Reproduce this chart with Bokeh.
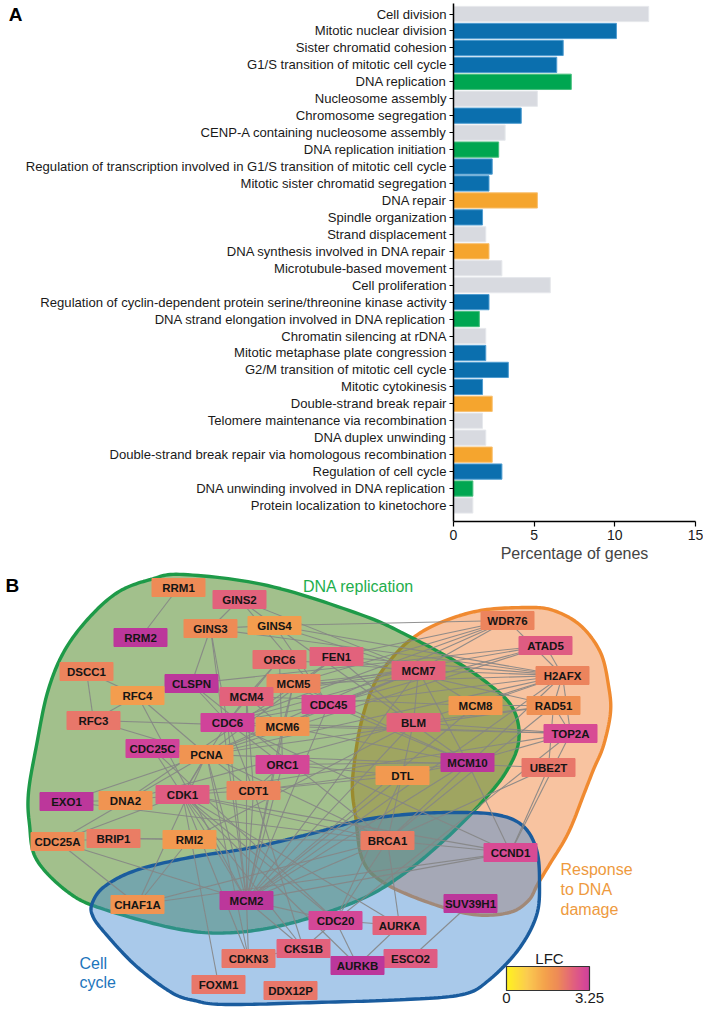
import numpy as np
from bokeh.plotting import figure
from bokeh.models import (Range1d, FixedTicker, LinearAxis, ColorBar, LinearColorMapper,
                          ColumnDataSource)
from bokeh.core.properties import value
from bokeh.embed import file_html
from bokeh.resources import INLINE

# ---------------- Panel A data ----------------
terms = [
    "Cell division", "Mitotic nuclear division", "Sister chromatid cohesion",
    "G1/S transition of mitotic cell cycle", "DNA replication", "Nucleosome assembly",
    "Chromosome segregation", "CENP-A containing nucleosome assembly",
    "DNA replication initiation",
    "Regulation of transcription involved in G1/S transition of mitotic cell cycle",
    "Mitotic sister chromatid segregation", "DNA repair", "Spindle organization",
    "Strand displacement", "DNA synthesis involved in DNA repair",
    "Microtubule-based movement", "Cell proliferation",
    "Regulation of cyclin-dependent protein serine/threonine kinase activity",
    "DNA strand elongation involved in DNA replication", "Chromatin silencing at rDNA",
    "Mitotic metaphase plate congression", "G2/M transition of mitotic cell cycle",
    "Mitotic cytokinesis", "Double-strand break repair",
    "Telomere maintenance via recombination", "DNA duplex unwinding",
    "Double-strand break repair via homologous recombination", "Regulation of cell cycle",
    "DNA unwinding involved in DNA replication", "Protein localization to kinetochore",
]
percent = [12.1, 10.1, 6.8, 6.4, 7.3, 5.2, 4.2, 3.2, 2.8, 2.4, 2.2, 5.2, 1.8, 2.0, 2.2,
           3.0, 6.0, 2.2, 1.6, 2.0, 2.0, 3.4, 1.8, 2.4, 1.8, 2.0, 2.4, 3.0, 1.2, 1.2]
groups = ["other", "cycle", "cycle", "cycle", "replication", "other", "cycle", "other",
          "replication", "cycle", "cycle", "repair", "cycle", "other", "repair", "other",
          "other", "cycle", "replication", "other", "cycle", "cycle", "cycle", "repair",
          "other", "other", "repair", "cycle", "replication", "other"]
x_ticks = [0, 5, 10, 15]

# ---------------- Panel B data ----------------
genes = ["RRM1", "GINS2", "GINS3", "GINS4", "RRM2", "ORC6", "FEN1", "DSCC1", "CLSPN", "MCM5",
         "RFC4", "MCM4", "CDC45", "RFC3", "CDC6", "MCM6", "CDC25C", "PCNA", "ORC1", "WDR76",
         "ATAD5", "MCM7", "H2AFX", "MCM8", "RAD51", "BLM", "TOP2A", "MCM10", "UBE2T", "DTL",
         "EXO1", "DNA2", "CDK1", "CDT1", "CDC25A", "BRIP1", "RMI2", "BRCA1", "CCND1", "CHAF1A",
         "MCM2", "SUV39H1", "CDC20", "AURKA", "CKS1B", "CDKN3", "ESCO2", "AURKB", "FOXM1",
         "DDX12P"]
layout_x = [178, 239, 210, 274, 140, 279, 336, 86, 191, 293,
            137, 246, 328, 93, 227, 282, 152, 206, 282, 507,
            545, 418, 562, 475, 553, 413, 570, 467, 548, 402,
            66, 125, 182, 253, 57, 113, 189, 387, 510, 137,
            246, 470, 335, 399, 303, 248, 410, 357, 218, 290]
layout_y = [585, 597, 626, 623, 635, 657, 654, 669, 681, 681,
            693, 694, 702, 718, 720, 724, 746, 752, 762, 618,
            643, 668, 673, 703, 703, 720, 731, 760, 765, 773,
            799, 798, 792, 788, 839, 836, 837, 838, 850, 902,
            898, 901, 918, 923, 946, 956, 956, 963, 982, 988]
lfc = [2.0, 2.6, 2.0, 1.6, 3.4, 2.4, 2.6, 2.1, 3.3, 2.1,
       1.6, 2.6, 2.95, 2.3, 3.2, 1.8, 3.2, 1.8, 3.1, 2.1,
       2.7, 2.6, 2.1, 1.7, 1.9, 2.6, 3.0, 3.4, 2.3, 1.7,
       3.4, 1.8, 2.7, 2.1, 2.0, 2.2, 1.7, 2.2, 3.0, 1.8,
       3.3, 3.5, 3.1, 2.6, 2.6, 2.3, 2.7, 3.4, 2.3, 2.3]
edges = [
    ("RRM1", "RRM2"), ("GINS2", "GINS3"), ("GINS2", "GINS4"), ("GINS2", "MCM7"), ("GINS2", "CDC45"),
    ("GINS3", "GINS4"), ("GINS3", "CLSPN"), ("GINS3", "CDC6"), ("GINS3", "MCM2"), ("GINS3", "H2AFX"),
    ("GINS4", "MCM7"), ("GINS4", "MCM10"), ("GINS4", "CDC45"), ("GINS4", "H2AFX"), ("GINS4", "WDR76"),
    ("ORC6", "ORC1"), ("ORC6", "CDC6"), ("ORC6", "MCM4"), ("ORC6", "MCM7"),
    ("FEN1", "PCNA"), ("FEN1", "DNA2"), ("FEN1", "WDR76"), ("FEN1", "RAD51"), ("FEN1", "BLM"),
    ("FEN1", "H2AFX"),
    ("DSCC1", "RFC4"), ("DSCC1", "RFC3"), ("RFC4", "RFC3"), ("RFC4", "PCNA"), ("RFC4", "MCM2"),
    ("RFC3", "PCNA"), ("RFC3", "MCM6"),
    ("CLSPN", "MCM4"), ("CLSPN", "CDC6"), ("CLSPN", "ATAD5"), ("CLSPN", "BRCA1"),
    ("MCM5", "MCM4"), ("MCM5", "MCM6"), ("MCM5", "MCM7"), ("MCM5", "MCM2"), ("MCM5", "CDC45"),
    ("MCM5", "MCM10"), ("MCM5", "H2AFX"),
    ("MCM4", "MCM6"), ("MCM4", "MCM7"), ("MCM4", "MCM2"), ("MCM4", "CDC6"), ("MCM4", "CDT1"),
    ("MCM4", "MCM8"),
    ("CDC45", "MCM6"), ("CDC45", "MCM7"), ("CDC45", "MCM2"), ("CDC45", "MCM10"), ("CDC45", "CDC6"),
    ("CDC45", "ATAD5"),
    ("CDC6", "ORC1"), ("CDC6", "CDT1"), ("CDC6", "MCM2"), ("CDC6", "MCM7"), ("CDC6", "CDK1"),
    ("CDC6", "CCND1"),
    ("MCM6", "MCM7"), ("MCM6", "MCM2"), ("MCM6", "MCM10"), ("MCM6", "TOP2A"),
    ("CDC25C", "CDK1"), ("CDC25C", "PCNA"), ("CDC25C", "CDC20"),
    ("PCNA", "CDK1"), ("PCNA", "CDT1"), ("PCNA", "MCM2"), ("PCNA", "CHAF1A"), ("PCNA", "EXO1"),
    ("PCNA", "BRCA1"), ("PCNA", "MCM7"), ("PCNA", "RAD51"), ("PCNA", "ATAD5"), ("PCNA", "CDKN3"),
    ("PCNA", "CDC25A"), ("PCNA", "UBE2T"), ("PCNA", "WDR76"), ("PCNA", "H2AFX"),
    ("ORC1", "CDT1"), ("ORC1", "MCM2"), ("ORC1", "MCM10"), ("ORC1", "DTL"),
    ("CDT1", "MCM2"), ("CDT1", "DTL"), ("CDT1", "CDK1"), ("CDT1", "MCM10"), ("CDT1", "CKS1B"),
    ("EXO1", "DNA2"), ("EXO1", "BRCA1"), ("DNA2", "CDK1"), ("DNA2", "BLM"),
    ("CDK1", "CDC25A"), ("CDK1", "MCM2"), ("CDK1", "CDC20"), ("CDK1", "CKS1B"), ("CDK1", "CDKN3"),
    ("CDK1", "AURKA"), ("CDK1", "AURKB"), ("CDK1", "FOXM1"), ("CDK1", "CCND1"), ("CDK1", "BRCA1"),
    ("CDK1", "TOP2A"),
    ("CDC25A", "CHAF1A"), ("CDC25A", "MCM2"),
    ("BRIP1", "RMI2"), ("BRIP1", "BRCA1"), ("BRIP1", "CDC25A"),
    ("RMI2", "BLM"), ("RMI2", "CHAF1A"),
    ("WDR76", "MCM7"), ("WDR76", "H2AFX"), ("WDR76", "MCM5"), ("WDR76", "CDC6"),
    ("ATAD5", "H2AFX"), ("ATAD5", "MCM4"),
    ("MCM7", "MCM2"), ("MCM7", "MCM10"), ("MCM7", "MCM8"), ("MCM7", "BLM"), ("MCM7", "H2AFX"),
    ("H2AFX", "BRCA1"), ("H2AFX", "RAD51"), ("H2AFX", "MCM8"), ("H2AFX", "TOP2A"), ("H2AFX", "BLM"),
    ("H2AFX", "MCM2"), ("H2AFX", "CDC45"),
    ("MCM8", "RAD51"), ("MCM8", "MCM2"),
    ("RAD51", "BRCA1"), ("RAD51", "BLM"), ("RAD51", "UBE2T"), ("RAD51", "TOP2A"),
    ("BLM", "TOP2A"), ("BLM", "BRCA1"), ("BLM", "MCM2"),
    ("TOP2A", "MCM10"), ("TOP2A", "CDC20"), ("TOP2A", "CCND1"), ("TOP2A", "CDC6"),
    ("MCM10", "MCM2"), ("MCM10", "DTL"), ("MCM10", "CCND1"),
    ("UBE2T", "BRCA1"), ("UBE2T", "CCND1"),
    ("DTL", "MCM2"), ("DTL", "CDC20"),
    ("BRCA1", "CCND1"), ("BRCA1", "MCM2"), ("BRCA1", "AURKA"), ("BRCA1", "CDC20"),
    ("BRCA1", "CHAF1A"),
    ("CCND1", "MCM2"), ("CCND1", "CHAF1A"),
    ("MCM2", "CKS1B"), ("MCM2", "CDKN3"), ("MCM2", "CDC20"),
    ("SUV39H1", "ESCO2"),
    ("CDC20", "AURKB"), ("CDC20", "CKS1B"), ("CDC20", "AURKA"),
    ("AURKA", "AURKB"), ("CKS1B", "CDKN3"),
]
lfc_ticks = [0, 3.25]

# region outlines (layout units)
green_region = [(183, 572), (267, 583), (360, 612), (407, 633), (457, 660), (490, 683), (510, 702),
                (518, 723), (517, 745), (507, 767), (490, 790), (452, 830), (405, 870), (360, 897),
                (293, 920), (234, 930), (180, 927), (104, 907), (68, 890), (36, 857), (29, 822),
                (28, 790), (36, 743), (47, 690), (63, 650), (87, 617), (117, 590), (150, 577)]
orange_region = [(413, 635), (440, 620), (480, 608), (527, 605), (553, 608), (580, 623),
                 (600, 650), (608, 683), (610, 710), (603, 743), (593, 767), (584, 790),
                 (568, 830), (549, 862), (537, 882), (528, 898), (509, 910), (473, 912),
                 (428, 900), (383, 880), (362, 857), (355, 813), (352, 790), (353, 767),
                 (360, 723), (373, 683), (392, 655)]
blue_region = [(92, 900), (104, 884), (135, 868), (189, 855), (252, 845), (315, 830), (360, 818),
               (405, 812), (450, 810), (495, 812), (522, 823), (536, 847), (539, 880),
               (536, 913), (518, 947), (488, 978), (462, 992), (405, 997), (315, 1000),
               (225, 1002), (194, 998), (171, 990), (135, 963), (104, 930), (92, 913)]

# ---------------- styles ----------------
FONT = "Liberation Sans"
group_fill = {"other": "#D8DAE0", "cycle": "#0B6FAE", "replication": "#00A651",
              "repair": "#F5A52E"}
group_line = {"other": "#E6E8EC", "cycle": "#4F9CD0", "replication": "#45BE7C",
              "repair": "#F8C070"}

# ---------------- Panel A ----------------
n = len(terms)
ypos = [n - 1 - i for i in range(n)]
srcA = ColumnDataSource(dict(y=ypos, right=percent,
                             fill=[group_fill[g] for g in groups],
                             line=[group_line[g] for g in groups]))

pA = figure(frame_width=242, frame_height=518, x_range=Range1d(0, 15),
            y_range=Range1d(-0.945, n - 0.38), output_backend="svg", toolbar_location=None,
            min_border_left=453, min_border_right=8, min_border_top=3, min_border_bottom=0)
pA.hbar(y="y", left=0, right="right", height=0.9, fill_color="fill", line_color="line",
        line_width=1, source=srcA)
pA.xgrid.visible = False
pA.ygrid.visible = False
pA.outline_line_color = None
pA.background_fill_color = None
pA.border_fill_color = None

pA.yaxis.ticker = FixedTicker(ticks=ypos)
pA.yaxis.major_label_overrides = {y: t for y, t in zip(ypos, terms)}
pA.yaxis.major_label_text_font = FONT
pA.yaxis.major_label_text_font_size = "13.1px"
pA.yaxis.major_label_text_color = "#1a1a1a"
pA.yaxis.major_label_standoff = 3
pA.yaxis.major_tick_in = 0
pA.yaxis.major_tick_out = 4
pA.yaxis.minor_tick_line_color = None
pA.yaxis.axis_line_width = 1.5
pA.yaxis.major_tick_line_width = 1.2

pA.xaxis.ticker = FixedTicker(ticks=x_ticks)
pA.xaxis.major_label_text_font = FONT
pA.xaxis.major_label_text_font_size = "14px"
pA.xaxis.major_label_text_color = "#1a1a1a"
pA.xaxis.major_tick_in = 0
pA.xaxis.major_tick_out = 5
pA.xaxis.minor_tick_line_color = None
pA.xaxis.axis_line_width = 1.5
pA.xaxis.major_tick_line_width = 1.2
pA.xaxis.axis_label = "Percentage of genes"
pA.xaxis.axis_label_text_font = FONT
pA.xaxis.axis_label_text_font_size = "16px"
pA.xaxis.axis_label_text_font_style = "normal"
pA.xaxis.axis_label_standoff = 2
pA.xaxis.major_label_standoff = 3

# panel letter "A" as an outer left axis label at the top row
panel_axis = LinearAxis(ticker=FixedTicker(ticks=[ypos[0]]),
                        major_label_overrides={ypos[0]: "A"},
                        axis_line_color=None, major_tick_line_color=None,
                        minor_tick_line_color=None, major_tick_in=0, major_tick_out=0,
                        minor_tick_in=0, minor_tick_out=0, major_label_standoff=0,
                        axis_label_standoff=0,
                        major_label_text_font=FONT, major_label_text_font_size="19px",
                        major_label_text_font_style="bold", major_label_text_color="#000000")
pA.add_layout(panel_axis, "left")

# ---------------- Panel B ----------------
def smooth_closed(pts, k=14):
    P = np.array(pts, dtype=float)
    N = len(P)
    t = np.linspace(0, 1, k, endpoint=False)[:, None]
    out = []
    for i in range(N):
        p0, p1, p2, p3 = P[(i - 1) % N], P[i], P[(i + 1) % N], P[(i + 2) % N]
        seg = 0.5 * ((2 * p1) + (-p0 + p2) * t + (2 * p0 - 5 * p1 + 4 * p2 - p3) * t ** 2
                     + (-p0 + 3 * p1 - 3 * p2 + p3) * t ** 3)
        out.append(seg)
    out = np.vstack(out)
    return out[:, 0], out[:, 1]

pB = figure(width=703, height=447, x_range=Range1d(0, 703), y_range=Range1d(1009, 562),
            output_backend="svg", toolbar_location=None, x_axis_type=None, y_axis_type=None,
            min_border=0, min_border_left=0, min_border_right=0, min_border_top=0,
            min_border_bottom=0)
pB.xgrid.visible = False
pB.ygrid.visible = False
pB.outline_line_color = None
pB.background_fill_color = None
pB.border_fill_color = None

for pts, fc, fa, lc in [(orange_region, "#F39B61", 0.6, "#F08A30"),
                        (green_region, "#558C2D", 0.55, "#1E9A48"),
                        (blue_region, "#4087D1", 0.45, "#1A5C9E")]:
    sx, sy = smooth_closed(pts)
    pB.patch(sx, sy, fill_color=fc, fill_alpha=fa, line_color=lc, line_width=3.4)

pos = {g: (x, y) for g, x, y in zip(genes, layout_x, layout_y)}
pB.multi_line(xs=[[pos[a][0], pos[b][0]] for a, b in edges],
              ys=[[pos[a][1], pos[b][1]] for a, b in edges],
              line_color="#858585", line_width=1.1, line_alpha=0.9)

anchors = [(0.0, "#FFF21E"), (0.8, "#FBCB50"), (1.5, "#F4A24C"), (2.0, "#EE8B56"),
           (2.3, "#E8776A"), (2.6, "#E2627C"), (3.0, "#D84B94"), (3.25, "#CF419B")]
av = np.array([a[0] for a in anchors])
ac = np.array([[int(c[1:3], 16), int(c[3:5], 16), int(c[5:7], 16)] for _, c in anchors], float)
grid = np.linspace(0, 3.25, 256)
rgb = np.stack([np.interp(grid, av, ac[:, j]) for j in range(3)], axis=1)
palette = ["#%02x%02x%02x" % tuple(int(round(v)) for v in row) for row in rgb]
mapper = LinearColorMapper(palette=palette, low=0, high=3.25, high_color="#BC379B")

srcB = ColumnDataSource(dict(x=layout_x, y=layout_y, name=genes, lfc=lfc))
pB.rect(x="x", y="y", width=53, height=18, source=srcB,
        fill_color={"field": "lfc", "transform": mapper},
        line_color={"field": "lfc", "transform": mapper}, line_width=1)
pB.text(x="x", y="y", text="name", source=srcB, text_font=value(FONT),
        text_font_style="bold", text_font_size="11.5px", text_align="center",
        text_baseline="middle", text_color="#151515")

pB.text(x=[358], y=[584], text=["DNA replication"], text_font=value(FONT),
        text_font_size="16px", text_align="center", text_baseline="middle",
        text_color="#1EAE4C")
pB.text(x=[560, 560, 560], y=[867, 887, 907], text=["Response", "to DNA", "damage"],
        text_font=value(FONT), text_font_size="16px", text_align="left",
        text_baseline="middle", text_color="#EE9A3E")
pB.text(x=[79, 79], y=[961, 980], text=["Cell", "cycle"], text_font=value(FONT),
        text_font_size="16px", text_align="left", text_baseline="middle",
        text_color="#1C75BC")
pB.text(x=[549], y=[956], text=["LFC"], text_font=value(FONT), text_font_size="15px",
        text_align="center", text_baseline="middle", text_color="#1a1a1a")
pB.text(x=[5], y=[572], text=["B"], text_font=value(FONT), text_font_size="19px",
        text_font_style="bold", text_align="left", text_baseline="top", text_color="#000000")

cbar = ColorBar(color_mapper=mapper, orientation="horizontal", location=(506, 6),
                width=83, height=24, padding=0, ticker=FixedTicker(ticks=lfc_ticks),
                major_label_overrides={0: "0", 3.25: "3.25"},
                major_label_text_font=FONT, major_label_text_font_size="15px",
                major_label_text_color="#1a1a1a", label_standoff=2,
                major_tick_line_color=None, minor_tick_line_color=None,
                bar_line_color="#333333", bar_line_width=1.2,
                background_fill_alpha=0, border_line_color=None)
pB.add_layout(cbar)

open("out.html", "w").write(file_html([pA, pB], INLINE))
